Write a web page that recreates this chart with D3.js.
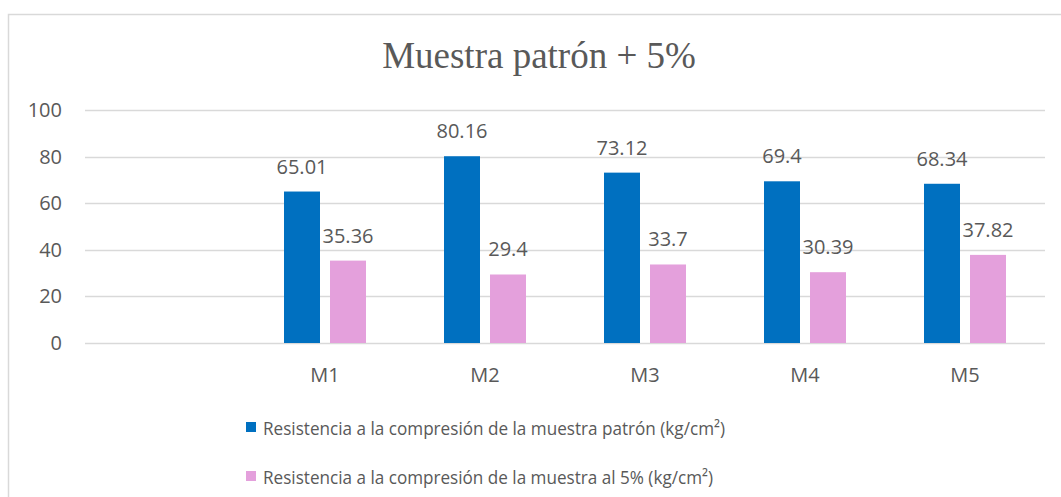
<!DOCTYPE html>
<html>
<head>
<meta charset="utf-8">
<script src="https://cdn.jsdelivr.net/npm/d3@7"></script>
<style>
  html, body { margin: 0; padding: 0; background: #fff; }
  svg { display: block; }
  text { font-family: "Open Sans", "Noto Sans", sans-serif; fill: #595959; }
</style>
</head>
<body>
<script>
const width = 1061;
const height = 497;

// data
const categories = ["", "M1", "M2", "M3", "M4", "M5"];
const patron = [null, 65.01, 80.16, 73.12, 69.4, 68.34];
const alCinco = [null, 35.36, 29.4, 33.7, 30.39, 37.82];
const seriesNames = [
  "Resistencia a la compresión de la muestra patrón (kg/cm²)",
  "Resistencia a la compresión de la muestra al 5% (kg/cm²)"
];
const seriesColors = ["#0070C0", "#E4A0DC"];
const yTicks = [0, 20, 40, 60, 80, 100];
const title = "Muestra patrón + 5%";

const svg = d3.select("body").append("svg")
  .attr("width", width)
  .attr("height", height);

// chart border (right and bottom edges fall outside the picture)
svg.append("rect")
  .attr("x", 8.5).attr("y", 14.5)
  .attr("width", width + 20).attr("height", height + 20)
  .attr("fill", "none")
  .attr("stroke", "#d9d9d9")
  .attr("stroke-width", 1.5);

const plot = {left: 85, right: 1045, top: 110, bottom: 343};

const x = d3.scaleBand().domain(categories).range([plot.left, plot.right]);
const y = d3.scaleLinear().domain([0, 100]).range([plot.bottom, plot.top]);

// title
svg.append("text")
  .attr("x", 539).attr("y", 68)
  .attr("text-anchor", "middle")
  .style("font-family", "'Liberation Serif', 'Times New Roman', serif")
  .style("font-size", "37px")
  .text(title);

// gridlines
svg.append("g").selectAll("line").data(yTicks).join("line")
  .attr("x1", plot.left).attr("x2", plot.right)
  .attr("y1", d => Math.round(y(d)) + 0.5).attr("y2", d => Math.round(y(d)) + 0.5)
  .attr("stroke", "#d9d9d9").attr("stroke-width", 1.3);

// y axis labels
const yAxis = svg.append("g")
  .attr("transform", `translate(${plot.left - 23},0)`)
  .call(d3.axisLeft(y).tickValues(yTicks).tickSize(0).tickPadding(0));
yAxis.select(".domain").remove();
yAxis.selectAll("text")
  .attr("fill", "#595959")
  .style("font-size", "20px")
  .style("font-family", "'Open Sans', sans-serif");

// x axis labels
const xAxis = svg.append("g")
  .attr("transform", `translate(0,${plot.bottom})`)
  .call(d3.axisBottom(x).tickSize(0));
xAxis.select(".domain").remove();
xAxis.selectAll("text")
  .attr("y", 39).attr("dy", 0)
  .attr("fill", "#595959")
  .style("font-size", "20px")
  .style("font-family", "'Open Sans', sans-serif");

// bars
const barW = 36, gap = 10;
const series = [patron, alCinco];
series.forEach((vals, si) => {
  const g = svg.append("g");
  const data = categories.map((c, i) => ({c, v: vals[i]})).filter(d => d.v != null);
  const bx = d => x(d.c) + x.bandwidth() / 2 - (barW * 2 + gap) / 2 + si * (barW + gap);
  g.selectAll("rect").data(data).join("rect")
    .attr("x", bx)
    .attr("y", d => y(d.v))
    .attr("width", barW)
    .attr("height", d => y(0) - y(d.v))
    .attr("fill", seriesColors[si]);
  g.selectAll("text").data(data).join("text")
    .attr("x", d => bx(d) + barW / 2)
    .attr("y", d => y(d.v) - 18)
    .attr("text-anchor", "middle")
    .style("font-size", "20px")
    .text(d => d.v);
});

// legend
const legendWidths = [462, 450];
const legend = svg.append("g").attr("transform", "translate(246,0)");
seriesNames.forEach((name, i) => {
  const ly = 422 + i * 49;
  legend.append("rect")
    .attr("x", 0).attr("y", ly)
    .attr("width", 10).attr("height", 10)
    .attr("fill", seriesColors[i]);
  legend.append("text")
    .attr("x", 17).attr("y", ly + 13)
    .attr("textLength", legendWidths[i])
    .attr("lengthAdjust", "spacingAndGlyphs")
    .style("font-size", "18.5px")
    .text(name);
});
</script>
</body>
</html>
